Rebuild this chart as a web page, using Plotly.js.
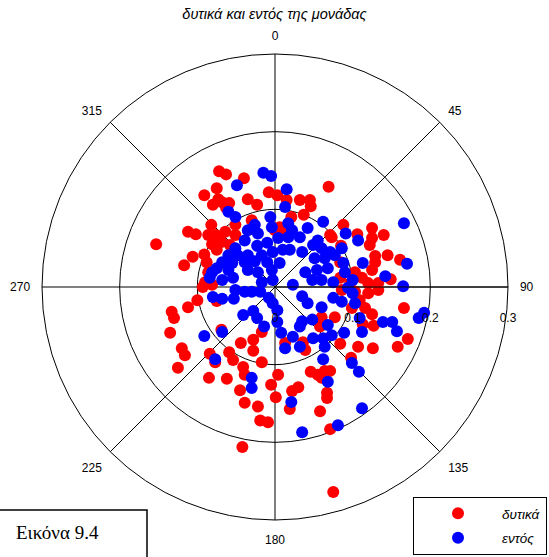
<!DOCTYPE html>
<html>
<head>
<meta charset="utf-8">
<script src="https://cdn.plot.ly/plotly-3.0.1.min.js"></script>
<style>html,body{margin:0;padding:0;background:#fff;}#chart{width:549px;height:557px;}</style>
</head>
<body>
<div id="chart"></div>
<script>
const redEast = [-0.072,-0.063,-0.040,-0.075,-0.091,-0.073,-0.080,-0.068,-0.059,-0.063,-0.035,-0.023,-0.008,0.003,-0.030,-0.051,-0.051,-0.112,-0.102,-0.153,-0.082,-0.086,-0.076,-0.064,-0.081,-0.069,-0.058,-0.091,-0.106,-0.117,-0.088,-0.075,-0.086,-0.090,-0.081,-0.093,
0.069,0.015,0.032,0.045,0.046,0.037,0.021,0.088,0.125,0.140,0.106,0.125,0.122,0.071,0.085,0.129,0.145,0.161,0.084,0.103,0.125,0.129,0.112,0.120,0.133,0.149,0.084,0.097,0.000,0.006,0.013,
-0.100,-0.112,-0.133,-0.130,-0.135,-0.120,-0.116,-0.125,-0.069,-0.084,-0.077,-0.059,-0.054,-0.044,-0.028,-0.028,-0.017,-0.017,-0.085,-0.062,-0.041,-0.039,-0.045,-0.039,-0.022,-0.019,-0.009,-0.005,0.001,-0.042,-0.075,0.004,
0.166,0.171,0.158,0.126,0.107,0.127,0.113,0.099,0.116,0.125,0.109,0.120,0.133,0.060,0.077,0.058,0.084,0.098,0.046,0.055,0.064,0.071,0.060,0.030,0.022,0.067,0.067,0.019,0.058,0.071,0.075,0.013,0.039,0.036,0.103,0.086,0.073];
const redNorth = [0.149,0.145,0.140,0.127,0.118,0.113,0.106,0.109,0.108,0.102,0.113,0.106,0.122,0.118,0.086,0.080,0.067,0.071,0.068,0.055,0.080,0.067,0.067,0.071,0.055,0.058,0.054,0.042,0.039,0.028,0.032,0.048,0.019,0.006,0.003,0.000,
0.129,0.112,0.112,0.112,0.104,0.093,0.090,0.080,0.076,0.067,0.068,0.063,0.054,0.067,0.053,0.040,0.041,0.035,0.032,0.019,0.022,0.032,0.012,0.005,0.005,0.010,0.012,0.005,0.073,0.077,0.071,
-0.017,-0.026,-0.032,-0.040,-0.059,-0.079,-0.088,-0.104,-0.055,-0.086,-0.097,-0.084,-0.094,-0.072,-0.068,-0.082,-0.058,-0.097,-0.117,-0.118,-0.103,-0.113,-0.133,-0.149,-0.154,-0.172,-0.174,-0.126,-0.142,-0.206,-0.018,-0.113,
-0.027,-0.067,-0.077,-0.079,-0.077,-0.050,-0.048,-0.027,-0.027,-0.035,-0.017,-0.008,-0.004,-0.039,-0.039,-0.051,-0.073,-0.091,-0.109,-0.113,-0.108,-0.108,-0.117,-0.129,-0.134,-0.136,-0.143,-0.157,-0.160,-0.183,-0.264,-0.072,-0.081,-0.071,-0.006,-0.004,0.064];

const blueEast = [-0.015,-0.005,-0.049,-0.060,-0.051,-0.006,-0.026,-0.035,-0.022,-0.004,-0.039,-0.023,-0.010,-0.051,-0.060,-0.048,-0.035,-0.017,-0.003,-0.068,-0.055,-0.039,-0.026,-0.010,-0.075,-0.060,-0.081,-0.035,-0.022,-0.004,-0.068,-0.054,-0.017,-0.003,-0.084,
0.015,0.013,0.166,0.062,0.042,0.091,0.107,0.017,0.022,0.004,0.017,0.032,0.010,0.019,0.035,0.055,0.049,0.060,0.071,0.086,0.051,0.064,0.077,0.088,0.113,0.170,0.006,0.039,0.054,0.068,0.090,0.142,0.048,0.060,0.075,0.100,0.165,0.023,
-0.080,-0.068,-0.053,-0.041,-0.028,-0.023,-0.014,-0.008,-0.003,0.003,0.003,-0.091,-0.068,-0.077,-0.030,-0.030,-0.051,-0.039,-0.030,-0.019,
0.035,0.042,0.060,0.075,0.086,0.103,0.185,0.192,0.139,0.151,0.157,0.109,0.112,0.089,0.068,0.073,0.062,0.064,0.049,0.035,0.032,0.048,0.023,0.032,0.013,0.008,0.062,0.099,0.108,0.068,0.021,0.112,0.081,0.035,0.100,0.094];
const blueNorth = [0.147,0.143,0.131,0.097,0.090,0.090,0.080,0.073,0.069,0.077,0.060,0.053,0.057,0.050,0.041,0.041,0.041,0.041,0.045,0.032,0.031,0.032,0.033,0.032,0.024,0.022,0.019,0.022,0.019,0.022,0.009,0.012,0.006,0.009,0.012,
0.126,0.103,0.082,0.084,0.076,0.069,0.060,0.082,0.073,0.063,0.064,0.064,0.048,0.048,0.045,0.060,0.054,0.050,0.045,0.050,0.037,0.037,0.041,0.031,0.031,0.030,0.031,0.019,0.022,0.024,0.019,0.014,0.009,0.009,0.006,0.009,0.001,0.003,
-0.013,-0.015,-0.015,-0.036,-0.031,-0.040,-0.051,-0.014,-0.021,-0.030,-0.045,-0.063,-0.058,-0.093,-0.117,-0.130,-0.004,-0.006,-0.006,-0.006,
-0.012,-0.021,-0.026,-0.014,-0.019,-0.021,-0.040,-0.033,-0.045,-0.045,-0.057,-0.040,-0.058,-0.059,-0.049,-0.062,-0.066,-0.077,-0.066,-0.044,-0.051,-0.042,-0.064,-0.077,-0.079,-0.059,-0.093,-0.098,-0.109,-0.122,-0.148,-0.156,-0.178,-0.187,-0.008,-0.001];

const seriesNames = ["δυτικά", "εντός"];
const angularTicks = [0, 45, 90, 135, 180, 225, 270, 315];
const angularTickLabels = ["0", "45", "90", "135", "180", "225", "270", "315"];
const radialTicks = [0, 0.1, 0.2, 0.3];
const radialTickLabels = ["0", "0.1", "0.2", "0.3"];
const titleText = "δυτικά και εντός της μονάδας";
const figureLabel = "Εικόνα 9.4";

function toR(e, n) { return e.map((v, i) => Math.hypot(v, n[i])); }
function toTheta(e, n) { return e.map((v, i) => (Math.atan2(v, n[i]) * 180 / Math.PI + 360) % 360); }

const W = 549, H = 557;
const L = 42, R = 41, T = 54, B = 37;
const pw = W - L - R, ph = H - T - B;
const px = x => (x - L) / pw;
const py = y => (H - B - y) / ph;

const traces = [
  { type: "scatterpolar", mode: "markers", name: seriesNames[0], legendgroup: "a",
    r: toR(redEast, redNorth), theta: toTheta(redEast, redNorth),
    marker: { color: "#ff0000", size: 12 } },
  { type: "scatterpolar", mode: "markers", name: seriesNames[1], legendgroup: "b",
    r: toR(blueEast, blueNorth), theta: toTheta(blueEast, blueNorth),
    marker: { color: "#0000ff", size: 12 } }
];

const layout = {
  width: W, height: H,
  margin: { l: L, r: R, t: T, b: B, autoexpand: false },
  paper_bgcolor: "#fff", plot_bgcolor: "#fff",
  font: { family: "Arial, 'Liberation Sans', sans-serif", size: 12, color: "#000" },
  title: { text: titleText, font: { size: 14.5, style: "italic", color: "#000" },
           x: 0.5, xref: "container", y: 1 - 14 / H, yref: "container", yanchor: "middle" },
  showlegend: true,
  legend: { x: px(413), y: py(497), xanchor: "left", yanchor: "top",
            bgcolor: "#fff", bordercolor: "#000", borderwidth: 1,
            itemwidth: 78, tracegroupgap: 4, itemsizing: "trace",
            font: { size: 13.5, style: "italic", color: "#000" } },
  polar: {
    bgcolor: "#fff",
    domain: { x: [0, 1], y: [0, 1] },
    angularaxis: {
      rotation: 90, direction: "clockwise", thetaunit: "degrees",
      tickmode: "array", tickvals: angularTicks, ticktext: angularTickLabels,
      ticks: "outside", ticklen: 9, tickcolor: "rgba(0,0,0,0)",
      showgrid: true, gridcolor: "#000", gridwidth: 1,
      showline: true, linecolor: "#000", linewidth: 1,
      tickfont: { size: 12, color: "#000" }
    },
    radialaxis: {
      range: [0, 0.3], angle: 0, side: "clockwise",
      tickmode: "array", tickvals: radialTicks, ticktext: radialTickLabels,
      ticks: "outside", ticklen: 20, tickcolor: "rgba(0,0,0,0)",
      showgrid: true, gridcolor: "#000", gridwidth: 1,
      showline: true, linecolor: "#000", linewidth: 1,
      tickangle: 0,
      tickfont: { size: 12, color: "#000" }
    }
  },
  shapes: [
    { type: "rect", xref: "paper", yref: "paper",
      x0: px(-2), x1: px(147), y0: py(560), y1: py(510),
      line: { color: "#000", width: 1.5 }, fillcolor: "#fff", layer: "above" }
  ],
  annotations: [
    { xref: "paper", yref: "paper", x: px(14), y: py(532), xanchor: "left", yanchor: "middle",
      text: figureLabel, showarrow: false,
      font: { family: "'Liberation Serif', 'Times New Roman', serif", size: 19, color: "#000" } }
  ]
};

Plotly.newPlot("chart", traces, layout, { displayModeBar: false, staticPlot: true });
</script>
</body>
</html>
